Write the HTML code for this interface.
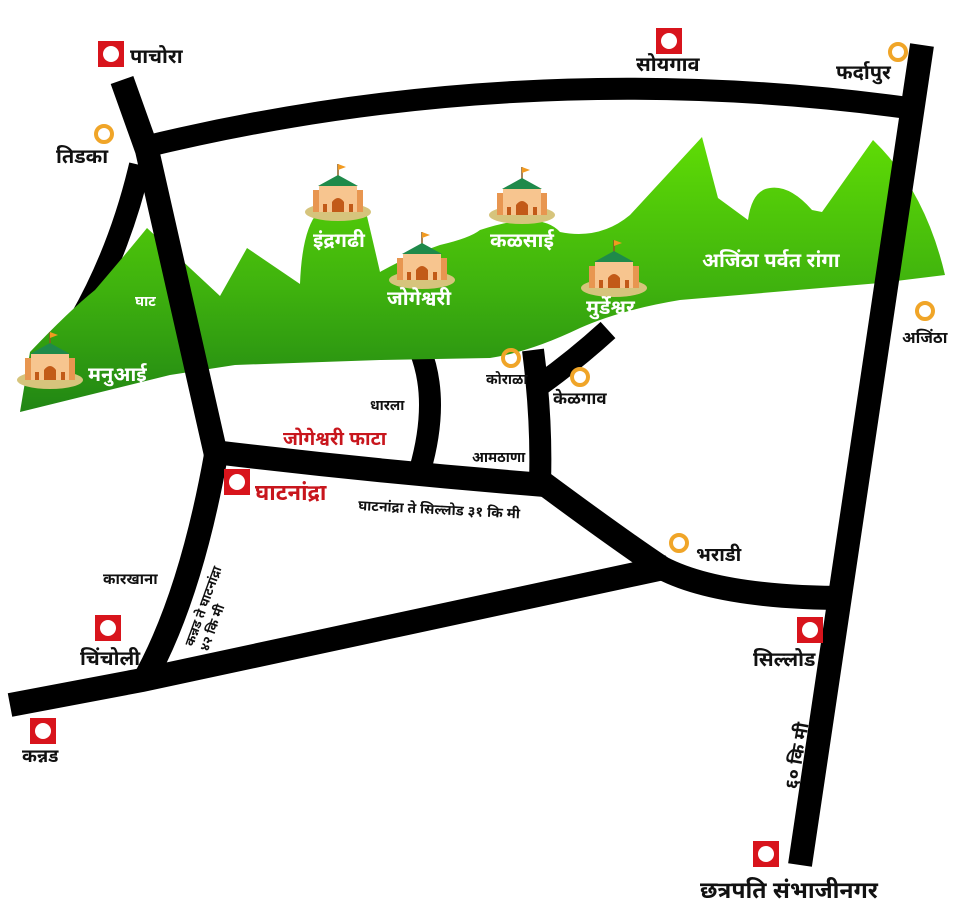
<!DOCTYPE html>
<html><head><meta charset="utf-8">
<style>
html,body{margin:0;padding:0;background:#fff;width:970px;height:911px;overflow:hidden}
svg{display:block}
text{font-family:"Liberation Sans","Noto Sans Devanagari","Lohit Devanagari",sans-serif}
.b{fill:#111;font-weight:bold}
.w{fill:#fff;font-weight:bold}
.r{fill:#c8161d;font-weight:bold}
</style></head><body>
<svg width="970" height="911" viewBox="0 0 970 911" xmlns="http://www.w3.org/2000/svg">
<defs>
<linearGradient id="g" x1="0" y1="0" x2="0" y2="1">
<stop offset="0" stop-color="#5fdc05"/><stop offset="0.55" stop-color="#3fb20e"/><stop offset="1" stop-color="#218614"/>
</linearGradient>
<g id="temple">
<ellipse cx="0" cy="10" rx="33" ry="9" fill="#d6c47c"/>
<line x1="0" y1="-38" x2="0" y2="-26" stroke="#8a5a20" stroke-width="1.5"/>
<path d="M0,-38 L8,-35 L0,-32Z" fill="#f29a20"/>
<path d="M-20,-16 L0,-27 L20,-16Z" fill="#1f8a4a"/>
<rect x="-25" y="-12" width="8" height="22" fill="#e89650"/>
<rect x="17" y="-12" width="8" height="22" fill="#e89650"/>
<rect x="-19" y="-16" width="38" height="26" fill="#f7c58f"/>
<path d="M-6,10 V0 Q0,-8 6,0 V10Z" fill="#c25a18"/>
<rect x="-15" y="2" width="4" height="8" fill="#c25a18"/>
<rect x="11" y="2" width="4" height="8" fill="#c25a18"/>
</g>
<g id="rs"><rect x="-13" y="-13" width="26" height="26" fill="#d8141c"/><circle r="8" fill="#fff"/></g>
<g id="oc"><circle r="8" fill="none" stroke="#f0a528" stroke-width="4"/></g>
</defs>

<g fill="none" stroke="#000" stroke-width="22" stroke-linecap="butt">
<path d="M140,165 Q120,250 80,320"/>
<path d="M140,148 Q520,55 908,108" />
<path d="M420,350 Q440,400 420,470"/>
<path d="M533,350 Q542,420 540,482"/>
<path d="M608,330 Q575,360 540,385"/>
</g>

<path fill="url(#g)" d="M20,412 L30,352 Q70,310 95,290 Q125,255 147,228 L220,296 L247,248 L300,284 Q302,230 318,212 L366,212 Q375,250 380,272 Q410,255 440,245 Q470,238 480,230 Q540,210 560,232 Q600,240 630,215 L702,137 L718,198 L748,220 Q752,190 770,188 Q790,185 812,210 L822,212 L873,140 Q925,190 945,275 L880,283 L680,300 Q620,310 580,328 Q530,352 490,358 L380,360 L235,365 L170,375 Z"/>

<g fill="none" stroke="#000" stroke-width="24">
<path d="M122,80 L147,150 L216,455"/>
<path d="M922,45 L800,865"/>
<path d="M214,452 Q380,472 545,485"/>
<path d="M543,483 Q620,540 662,568 Q720,598 848,598"/>
<path d="M216,455 Q190,600 142,684"/>
<path d="M10,705 Q90,690 142,680 L668,567"/>
</g>

<use href="#temple" x="50" y="370"/>
<use href="#temple" x="338" y="202"/>
<use href="#temple" x="422" y="270"/>
<use href="#temple" x="522" y="205"/>
<use href="#temple" x="614" y="278"/>

<text class="w" x="88" y="381" font-size="20">मनुआई</text>
<text class="w" x="135" y="306" font-size="14">घाट</text>
<text class="w" x="313" y="247" font-size="20">इंद्रगढी</text>
<text class="w" x="387" y="305" font-size="20">जोगेश्वरी</text>
<text class="w" x="490" y="247" font-size="20">कळसाई</text>
<text class="w" x="586" y="314" font-size="20">मुर्डेश्वर</text>
<text class="w" x="702" y="267" font-size="20">अजिंठा पर्वत रांगा</text>

<use href="#rs" x="111" y="54"/>
<text class="b" x="130" y="63" font-size="20">पाचोरा</text>
<use href="#oc" x="104" y="134"/>
<text class="b" x="56" y="163" font-size="20">तिडका</text>
<use href="#rs" x="669" y="41"/>
<text class="b" x="636" y="71" font-size="20">सोयगाव</text>
<use href="#oc" x="898" y="52"/>
<text class="b" x="836" y="79" font-size="20">फर्दापुर</text>
<use href="#oc" x="925" y="311"/>
<text class="b" x="902" y="343" font-size="16">अजिंठा</text>
<use href="#oc" x="511" y="358"/>
<text class="b" x="486" y="384" font-size="14">कोराळा</text>
<use href="#oc" x="580" y="377"/>
<text class="b" x="553" y="404" font-size="17">केळगाव</text>
<text class="b" x="370" y="410" font-size="14">धारला</text>
<text class="b" x="472" y="462" font-size="14">आमठाणा</text>
<text class="r" x="283" y="445" font-size="19">जोगेश्वरी फाटा</text>
<use href="#rs" x="237" y="482"/>
<text class="r" x="255" y="500" font-size="22">घाटनांद्रा</text>
<text class="b" x="358" y="510" font-size="14" transform="rotate(3 358 510)">घाटनांद्रा  ते  सिल्लोड ३१ कि मी</text>
<use href="#oc" x="679" y="543"/>
<text class="b" x="696" y="561" font-size="19">भराडी</text>
<text class="b" x="103" y="584" font-size="15">कारखाना</text>
<text class="b" x="193" y="647" font-size="13" transform="rotate(-70 193 647)">कन्नड ते घाटनांद्रा</text>
<text class="b" x="208" y="652" font-size="13" transform="rotate(-70 208 652)">४२ कि मी</text>
<use href="#rs" x="108" y="628"/>
<text class="b" x="80" y="665" font-size="20">चिंचोली</text>
<use href="#rs" x="43" y="731"/>
<text class="b" x="22" y="762" font-size="18">कन्नड</text>
<use href="#rs" x="810" y="630"/>
<text class="b" x="753" y="666" font-size="20">सिल्लोड</text>
<text class="b" x="797" y="790" font-size="18" transform="rotate(-80 797 790)">६० कि मी</text>
<use href="#rs" x="766" y="854"/>
<text class="b" x="700" y="898" font-size="23">छत्रपति संभाजीनगर</text>
</svg>
</body></html>
